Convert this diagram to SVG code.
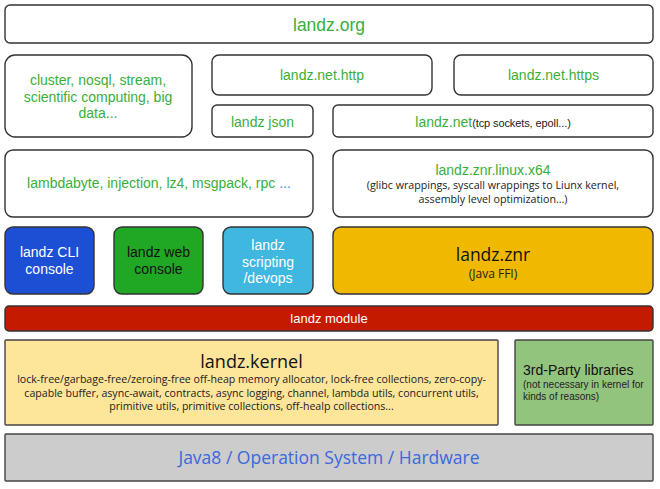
<svg xmlns="http://www.w3.org/2000/svg" width="660" height="489" viewBox="0 0 660 489">
<style>
.b{fill:#fff;stroke:#333;stroke-width:1.4}
.s{font-family:"Liberation Sans",Arial,sans-serif}
.o{font-family:"Open Sans","Noto Sans",sans-serif}
.g{fill:#3aae3a}
.c{text-anchor:middle}
</style>
<rect width="660" height="489" fill="#fff"/>
<g id="landz-org"><rect class="b" x="5" y="5" width="648" height="38" rx="5"/><text class="s g c" x="329" y="31" font-size="17.5">landz.org</text></g>
<g id="bigdata"><rect class="b" x="5" y="55" width="187" height="82" rx="10"/>
<text class="s g c" font-size="14"><tspan x="98" y="85">cluster, nosql, stream,</tspan><tspan x="98" y="102">scientific computing, big</tspan><tspan x="98" y="118">data...</tspan></text></g>
<g id="http"><rect class="b" x="212" y="55" width="220" height="40" rx="7"/><text class="s g c" x="322" y="80" font-size="14">landz.net.http</text></g>
<g id="https"><rect class="b" x="454" y="55" width="199" height="40" rx="7"/><text class="s g c" x="553.5" y="80" font-size="14">landz.net.https</text></g>
<g id="json"><rect class="b" x="212" y="105" width="101" height="32" rx="5"/><text class="s g c" x="262.5" y="127" font-size="14">landz json</text></g>
<g id="net"><rect class="b" x="333" y="105" width="320" height="32" rx="5"/><text class="s c" x="493" y="127"><tspan class="g" font-size="14">landz.net</tspan><tspan font-size="11" fill="#222" letter-spacing="-0.1">(tcp sockets, epoll...)</tspan></text></g>
<g id="lambdabyte"><rect class="b" x="5" y="150" width="308" height="67" rx="8"/><text class="s c" x="159" y="188" font-size="14"><tspan class="g">lambdabyte, injection, lz4, msgpack, rpc </tspan><tspan fill="#4a86e8">...</tspan></text></g>
<g id="znr-linux"><rect class="b" x="333" y="150" width="320" height="67" rx="8"/>
<text class="s g c" x="493" y="175" font-size="14">landz.znr.linux.x64</text>
<text class="o c" font-size="10.7" fill="#222"><tspan x="493" y="189">(glibc wrappings, syscall wrappings to Liunx kernel,</tspan><tspan x="493" y="203">assembly level optimization…)</tspan></text></g>
<g id="cli"><rect x="5" y="227" width="89" height="67" rx="8" fill="#1c4fd4" stroke="#333" stroke-width="1.4"/><text class="s c" font-size="14" fill="#fff"><tspan x="49.5" y="257">landz CLI</tspan><tspan x="49.5" y="274">console</tspan></text></g>
<g id="web"><rect x="114" y="227" width="89" height="67" rx="8" fill="#20a824" stroke="#333" stroke-width="1.4"/><text class="s c" font-size="14" fill="#111"><tspan x="158.5" y="257">landz web</tspan><tspan x="158.5" y="274">console</tspan></text></g>
<g id="scripting"><rect x="223" y="227" width="90" height="67" rx="8" fill="#3fb7de" stroke="#333" stroke-width="1.4"/><text class="s c" font-size="14" fill="#fff"><tspan x="268" y="250">landz</tspan><tspan x="268" y="267">scripting</tspan><tspan x="268" y="283">/devops</tspan></text></g>
<g id="znr"><rect x="333" y="227" width="320" height="67" rx="8" fill="#f0b900" stroke="#333" stroke-width="1.4"/><text class="o c" x="493" y="261" font-size="17.5" fill="#111">landz.znr</text><text class="o c" x="493" y="278" font-size="12" fill="#222">(Java FFI)</text></g>
<g id="module"><rect x="5" y="306" width="648" height="25" rx="4" fill="#c41a00" stroke="#333" stroke-width="1.4"/><text class="s c" x="329" y="323" font-size="13" fill="#fff">landz module</text></g>
<g id="kernel"><rect x="5" y="340" width="493" height="85" rx="1" fill="#fde59a" stroke="#444" stroke-width="1.4"/>
<text class="o c" x="251.5" y="368" font-size="18" fill="#111">landz.kernel</text>
<text class="o c" font-size="10.6" fill="#222"><tspan x="251.5" y="383">lock-free/garbage-free/zeroing-free off-heap memory allocator, lock-free collections, zero-copy-</tspan><tspan x="251.5" y="397">capable buffer, async-await, contracts, async logging, channel, lambda utils, concurrent utils,</tspan><tspan x="251.5" y="410">primitive utils, primitive collections, off-healp collections...</tspan></text></g>
<g id="thirdparty"><rect x="515" y="340" width="138" height="85" rx="1" fill="#93c47d" stroke="#444" stroke-width="1.4"/>
<text class="s" x="523" y="375" font-size="14" fill="#111">3rd-Party libraries</text>
<text class="s" font-size="10" fill="#222"><tspan x="523" y="388">(not necessary in kernel for</tspan><tspan x="523" y="400">kinds of reasons)</tspan></text></g>
<g id="java8"><rect x="5" y="434" width="648" height="47" rx="1" fill="#cccccc" stroke="#444" stroke-width="1.4"/><text class="o c" x="329" y="464" font-size="17.5" fill="#3b68de">Java8 / Operation System / Hardware</text></g>
<g id="connectors"></g>
</svg>
